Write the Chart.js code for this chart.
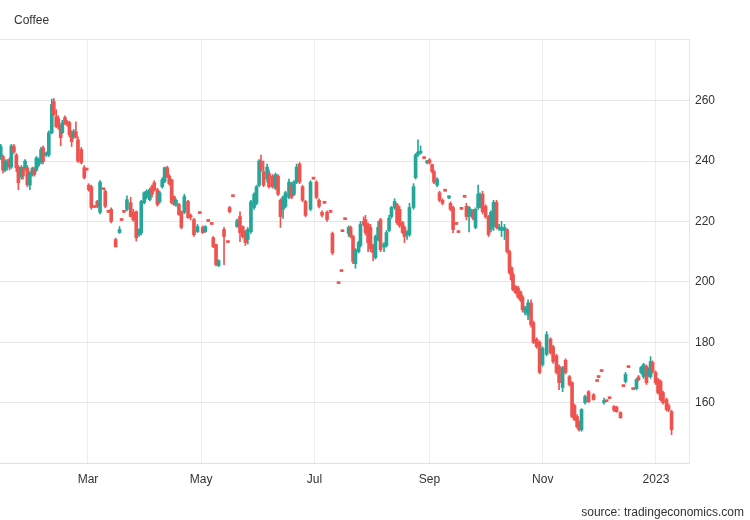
<!DOCTYPE html>
<html lang="en">
<head>
<meta charset="UTF-8">
<title>Coffee</title>
<style>
  body { margin: 0; background: #fff; }
  .wrap { position: relative; width: 750px; height: 520px; font-family: "Liberation Sans", Arial, sans-serif; color: #333; }
  .wrap canvas { position: absolute; left: 0; top: 0; }
  .title { position: absolute; left: 14px; top: 13px; font-size: 12px; }
  .source { position: absolute; right: 6px; top: 505px; font-size: 12px; }
</style>
</head>
<body>
<div class="wrap">
  <canvas id="coffeeChart" width="750" height="520"></canvas>
  <div class="title">Coffee</div>
  <div class="source">source: tradingeconomics.com</div>
</div>
<script src="https://cdn.jsdelivr.net/npm/chart.js@4.4.1/dist/chart.umd.min.js"></script>
<script>
// x positions are days since 2022-01-01
const monthTicks = [59, 120, 181, 243, 304, 365];
const monthLabels = ['Mar', 'May', 'Jul', 'Sep', 'Nov', '2023'];
const priceTicks = [160, 180, 200, 220, 240, 260];

const tradeDay = [
  12.0, 13.2, 14.3, 15.4, 16.7, 17.7, 19.1, 20.4, 21.5, 23.1,
  24.0, 25.1, 26.3, 27.7, 29.0, 30.1, 31.2, 32.2, 33.7, 34.8,
  36.5, 37.9, 39.5, 40.6, 41.9, 43.0, 44.3, 45.2, 46.6, 47.7,
  49.0, 50.2, 51.3, 52.5, 53.6, 55.4, 57.0, 58.3, 59.4, 60.8,
  62.6, 64.0, 65.5, 67.3, 68.3, 70.0, 71.5, 73.9, 76.0, 77.1,
  78.4, 80.0, 82.0, 83.4, 85.0, 86.5, 87.7, 89.3, 90.6, 92.3,
  93.5, 94.7, 96.4, 97.6, 99.0, 100.3, 101.7, 102.8, 104.1, 105.4,
  106.4, 108.0, 109.3, 110.9, 112.9, 114.3, 116.1, 118.0, 119.2, 120.8,
  122.2, 123.8, 125.7, 126.5, 128.0, 129.4, 132.3, 134.4, 135.3, 137.1,
  139.3, 140.9, 142.4, 143.8, 145.1, 146.8, 148.5, 149.8, 151.2, 152.2,
  153.6, 155.5, 156.5, 158.4, 160.0, 161.4, 162.7, 164.1, 165.4, 167.3,
  168.7, 170.0, 171.4, 173.0, 174.6, 176.2, 178.9, 180.5, 182.1, 183.5,
  185.1, 186.4, 187.8, 189.7, 190.7, 194.0, 195.6, 196.1, 197.5, 199.4,
  200.5, 201.8, 203.1, 204.8, 205.8, 207.5, 208.5, 209.9, 211.2, 212.6,
  213.9, 215.3, 216.6, 218.5, 219.8, 221.2, 222.5, 224.2, 225.5, 226.9,
  228.5, 229.5, 230.9, 232.2, 234.4, 235.5, 236.8, 238.2, 240.1, 241.7,
  243.0, 244.4, 245.4, 247.1, 248.4, 250.0, 251.4, 253.5, 254.3, 255.7,
  257.5, 258.6, 260.2, 261.9, 262.9, 264.3, 265.6, 266.5, 267.8, 269.2,
  270.2, 271.6, 273.2, 274.8, 276.1, 277.5, 279.1, 280.5, 281.8, 283.4,
  284.8, 286.1, 287.2, 288.0, 289.4, 290.7, 292.0, 293.1, 294.5, 296.1,
  297.7, 299.0, 300.7, 302.3, 303.9, 306.1, 308.2, 309.6, 311.4, 312.8,
  314.7, 316.3, 318.4, 319.8, 321.1, 322.5, 323.6, 324.9, 326.8, 328.7,
  331.4, 333.3, 334.1, 335.7, 337.0, 338.4, 340.0, 342.4, 343.8, 345.9,
  347.5, 348.6, 350.2, 352.7, 354.5, 355.6, 357.0, 358.3, 359.9, 361.0,
  362.1, 363.2, 364.8, 366.1, 367.5, 368.8, 370.7, 371.8, 373.4
];

const openPx = [
  241.5, 241.5, 237, 238, 240.5, 238, 244.8, 242, 238, 234.8,
  237.5, 237.8, 237.8, 232, 235.5, 237.5, 237, 238.5, 239.5, 244.4,
  242, 242, 249.4, 259.7, 254.7, 254, 251.4, 249.4, 254.4, 253,
  252.7, 249.4, 248, 249.7, 247, 243.8, 237.8, 237, 232, 231.5,
  224.6, 226.6, 223, 230.5, 230, 223, 224, 214, 216.3, 220.3,
  223, 224, 226.2, 223, 223.2, 215.6, 216.3, 226.2, 228, 227.2,
  231.5, 232.8, 230.5, 226.5, 231.5, 233.2, 237.8, 235, 233.8, 228.2,
  225.6, 225.6, 223.2, 223, 226.6, 222, 220.6, 216.6, 222.6, 218,
  216.6, 220, 219, 214.6, 212.3, 205.4, 217.3, 213, 224.6, 228.2,
  218.3, 221.6, 218.3, 216.6, 214, 216.6, 224.6, 226, 232, 240,
  236.5, 234, 236, 235, 231, 235, 227, 224, 225, 228,
  232, 229, 233, 239, 231.5, 226.6, 224, 234, 233, 227,
  223, 226, 223, 223, 216, 199.4, 203.4, 216.6, 220.6, 216,
  218, 215, 206, 210, 212, 220, 220.6, 219, 218, 212,
  208, 214, 220.6, 211.5, 212, 217, 221.6, 224.6, 225.6, 224,
  219.6, 218, 215.5, 215.6, 224.6, 234.5, 242, 242.6, 240.8, 239.4,
  240.4, 238.8, 236.5, 232, 229.5, 227, 230, 227.8, 226, 224.6,
  219, 216.3, 224, 228, 225, 221.6, 222, 223.5, 218, 224.6,
  225, 229, 225, 221.6, 217.3, 218.3, 226.3, 217.5, 217, 217,
  217.3, 210, 204.7, 202.4, 198.4, 198, 196.7, 195, 189.8, 189,
  193, 186.5, 181, 180, 172.6, 176, 181, 178.5, 175.5, 172,
  165, 174, 168.6, 166.6, 159, 155.4, 153.4, 151, 160, 163.6,
  162.6, 167, 168.3, 170.3, 160, 160.3, 161.3, 158.7, 158.5, 156.7,
  165.3, 167, 171.6, 164.3, 164.6, 168.5, 170, 168.6, 172, 169,
  168.6, 173.3, 170, 167.6, 167, 163.3, 161, 159, 157
];

const highPx = [
  245.5, 242, 240.5, 240.5, 241, 245.5, 245.5, 242.5, 238.5, 238.5,
  238, 240.5, 238.5, 236.5, 238, 238, 241.5, 241, 244.5, 245,
  243, 250, 260.5, 260.7, 257, 255, 252, 253.5, 255, 253.5,
  253.2, 250, 250.5, 253, 248, 244.5, 238.5, 237, 232.5, 232,
  224.6, 227, 233.5, 230.5, 230.5, 223, 224.5, 214.5, 218.3, 220.3,
  223, 228.5, 228, 224, 223.5, 217.5, 227, 229.8, 230.5, 231,
  232, 233.5, 231, 230, 234.5, 238, 238.3, 235.5, 234, 228.5,
  227.5, 226, 223.5, 229, 227, 222.5, 221, 219, 222.6, 218.5,
  218.6, 220, 219, 215, 212.5, 207.3, 218, 213, 225, 228.2,
  220.8, 223.2, 218.5, 217, 218, 227, 229.5, 232, 240.5, 242,
  240, 239, 237, 235.5, 236, 235.5, 227.5, 228.5, 230, 234,
  233, 233.5, 239, 239.5, 232, 227, 233.5, 234, 233.5, 227.5,
  223.5, 226, 223.5, 223, 216.5, 199.4, 203.4, 216.6, 220.6, 218.5,
  218.5, 215.5, 211, 213.5, 220, 221.5, 222, 219.5, 219, 212.5,
  215.5, 220, 221, 213, 217, 222, 225, 227.5, 226, 225,
  220, 218.5, 217, 226, 232.5, 242.5, 247, 245, 240.8, 240.2,
  240.8, 239, 237, 234.5, 230, 227.5, 230, 228.5, 226.5, 225,
  219, 216.3, 224, 228, 226, 225, 224, 224, 224.5, 232,
  229.5, 230, 225.5, 222, 223.5, 227, 227, 219, 220, 219,
  217.5, 210.5, 205, 203, 198.8, 198.5, 197, 195.5, 192, 194,
  194, 187, 181.5, 180.5, 178.5, 183.5, 181.5, 179, 176, 172.5,
  172, 174.5, 169, 167, 159.5, 156, 154, 158, 162.5, 164,
  163, 167, 168.3, 170.3, 161.5, 160.3, 161.3, 159, 158.8, 157,
  165.3, 170, 171.6, 164.3, 168, 169, 172, 173, 172.5, 171.5,
  175.2, 173.8, 170.5, 168, 167.5, 163.8, 161.5, 159.5, 157.5
];

const lowPx = [
  240.5, 236, 236.5, 237, 237, 237.5, 242.5, 236.5, 230.5, 234,
  234, 237, 231.5, 230.5, 235, 235, 236.5, 238, 239, 239,
  241.5, 241.5, 249, 255, 251, 250.5, 245, 249, 252, 251.5,
  248, 244.8, 247.5, 247.5, 239.5, 239, 234, 237, 230, 224,
  224.6, 224.5, 222.5, 230.5, 224.5, 223, 219.5, 211.5, 216, 220.3,
  223, 223.5, 221.5, 220, 213.5, 215, 215.5, 225.8, 227.5, 226.8,
  228, 230, 225, 226, 231, 232.8, 234.5, 232, 225.8, 225.3,
  225, 222, 217.5, 222.5, 221, 220.5, 215, 216.3, 222.6, 216,
  216.3, 220, 219, 211.3, 205.3, 205, 205.7, 213, 222.8, 228.2,
  218, 213.3, 214.5, 212, 212.5, 216, 224, 225.5, 231.5, 236.5,
  231.5, 233, 231, 231, 230.5, 228.5, 218, 221, 224.5, 227.5,
  227.5, 228.5, 232.5, 232.5, 226.5, 221.5, 223.5, 234, 227.5, 224.5,
  221.5, 226, 220, 223, 209, 199.4, 203.4, 216.6, 220.6, 215,
  214.5, 206, 204.5, 209.5, 211.5, 218.5, 215.5, 210, 210, 207,
  207.5, 213.5, 210, 210, 211.5, 216.5, 221, 224, 219, 218,
  216, 213, 214, 215, 224, 234, 241.5, 242.3, 240.8, 239,
  239, 236, 232.5, 231.5, 226.5, 225.5, 230, 227.5, 223.5, 216.3,
  219, 216.3, 224, 228, 220.5, 216.5, 221.5, 220.5, 217.5, 224,
  224.5, 222.5, 221, 215, 216.5, 217, 217.5, 217, 215, 214,
  209.5, 202.5, 200.3, 197, 196, 194.5, 193.5, 190, 189, 187.5,
  185, 179.5, 178, 169.5, 172, 175.5, 176, 173, 169.5, 164.3,
  163.6, 169.5, 165.5, 155, 154, 151.5, 150.5, 150.5, 159.5, 160,
  160.8, 167, 168.3, 170.3, 159.5, 160.3, 161.3, 157, 156.8, 154.8,
  165.3, 166.5, 171.6, 164.3, 164.2, 167.2, 169.5, 168, 166, 168.5,
  168, 169.8, 166, 162.8, 160.5, 159.5, 157.2, 157, 149.4
];

const closePx = [
  244.8, 237, 240, 239.5, 238, 245, 243, 237.8, 232.8, 237.8,
  235, 240, 232.2, 236, 237.5, 235.5, 241, 240.5, 243.8, 239.8,
  242.4, 249.4, 258.7, 255.4, 251.4, 251.4, 247.7, 252.7, 252.7, 252.2,
  248.7, 246.4, 249.8, 248, 240, 239.5, 234.5, 237, 230.5, 224.6,
  224.6, 225, 233, 230.5, 225, 223, 220, 211.6, 217.3, 220.3,
  223, 227.2, 221.6, 220.5, 214.6, 217.3, 226.6, 229.5, 230, 230.5,
  229, 230.5, 225.6, 229.5, 233.8, 237.8, 234.8, 232.5, 226.2, 225.6,
  227, 222.3, 218, 228.2, 221.3, 221.3, 215.6, 218.3, 222.6, 216.3,
  218.3, 220, 219, 211.6, 205.7, 207, 215, 213, 223.2, 228.2,
  220.2, 216.3, 215, 213, 217.3, 226.5, 229, 231.5, 240, 237,
  232, 238, 231.5, 231.5, 235.5, 229, 221.6, 228, 229.5, 233,
  228, 233, 238, 233, 227, 222, 233, 234, 228, 225,
  222, 226, 220.6, 223, 209.6, 199.4, 203.4, 216.6, 220.6, 218,
  215, 206.7, 210.6, 213, 219, 219, 216.3, 213, 211, 209.6,
  215, 218, 210.6, 212.5, 216.3, 221, 224.6, 226.6, 219.6, 218.5,
  216.3, 215, 216.3, 224.6, 231.5, 242, 243, 243, 240.8, 239.8,
  239.4, 236.5, 233, 234, 227, 226, 230, 228.3, 224, 217.3,
  219, 216.3, 224, 228, 221.6, 224.6, 223.5, 221, 224, 229,
  229, 223.2, 221.6, 215.6, 223, 226.3, 218, 218, 218, 218,
  210, 203, 200.7, 197.4, 196.4, 195, 194, 190.8, 191.5, 193,
  185.8, 180, 178.5, 170, 178, 182.5, 176.5, 173.6, 170, 166.6,
  171.6, 170, 166, 155.4, 154.4, 152, 151, 157.7, 162, 160.3,
  161, 167, 168.3, 170.3, 160.6, 160.3, 161.3, 157.5, 157, 155,
  165.3, 169.3, 171.6, 164.3, 167.6, 167.5, 171.6, 172.6, 166.6, 171,
  173.6, 170.3, 166.6, 163.3, 161, 160, 157.7, 157.5, 151
];

const UP = '#26a69a';
const DOWN = '#ef5350';
const candleColors = closePx.map((c, i) => c > openPx[i] ? UP : DOWN);
const labelFont = { family: '"Liberation Sans", Arial, sans-serif', size: 12 };

// light line along the top of the plot area
const topBorder = {
  id: 'topBorder',
  beforeDatasetsDraw(chart) {
    const { ctx, chartArea } = chart;
    ctx.save();
    ctx.strokeStyle = '#e6e6e6';
    ctx.lineWidth = 1;
    ctx.beginPath();
    ctx.moveTo(chartArea.left, chartArea.top + 0.5);
    ctx.lineTo(chartArea.right, chartArea.top + 0.5);
    ctx.stroke();
    ctx.restore();
  }
};

new Chart(document.getElementById('coffeeChart'), {
  type: 'bar',
  data: {
    datasets: [
      {
        label: 'Open-Close',
        data: tradeDay.map((d, i) => ({ x: d, y: [openPx[i], closePx[i]] })),
        backgroundColor: candleColors,
        barThickness: 3,
        minBarLength: 2,
        grouped: false
      },
      {
        label: 'High-Low',
        data: tradeDay.map((d, i) => ({ x: d, y: [lowPx[i], highPx[i]] })),
        backgroundColor: candleColors,
        barThickness: 1,
        grouped: false
      }
    ]
  },
  options: {
    responsive: false,
    animation: false,
    layout: { padding: { top: 39, bottom: 27, left: 0, right: 0 } },
    plugins: { legend: { display: false }, tooltip: { enabled: false } },
    scales: {
      x: {
        type: 'linear',
        min: 11.6,
        max: 382.8,
        offset: false,
        afterBuildTicks: s => { s.ticks = monthTicks.map(v => ({ value: v })); },
        afterFit: s => { s.height = 30; },
        ticks: {
          autoSkip: false,
          maxRotation: 0,
          padding: 9,
          color: '#333',
          font: labelFont,
          callback: v => monthLabels[monthTicks.indexOf(v)]
        },
        grid: { color: '#eeeeee', drawTicks: false, offset: false },
        border: { color: '#e0e0e0' }
      },
      y: {
        position: 'right',
        min: 140,
        max: 280.4,
        afterBuildTicks: s => { s.ticks = priceTicks.map(v => ({ value: v })); },
        afterFit: s => { s.width = 61; },
        ticks: { padding: 6, color: '#333', font: labelFont },
        grid: { color: '#e6e6e6', drawTicks: false },
        border: { color: '#e6e6e6' }
      }
    }
  },
  plugins: [topBorder]
});
</script>
</body>
</html>
